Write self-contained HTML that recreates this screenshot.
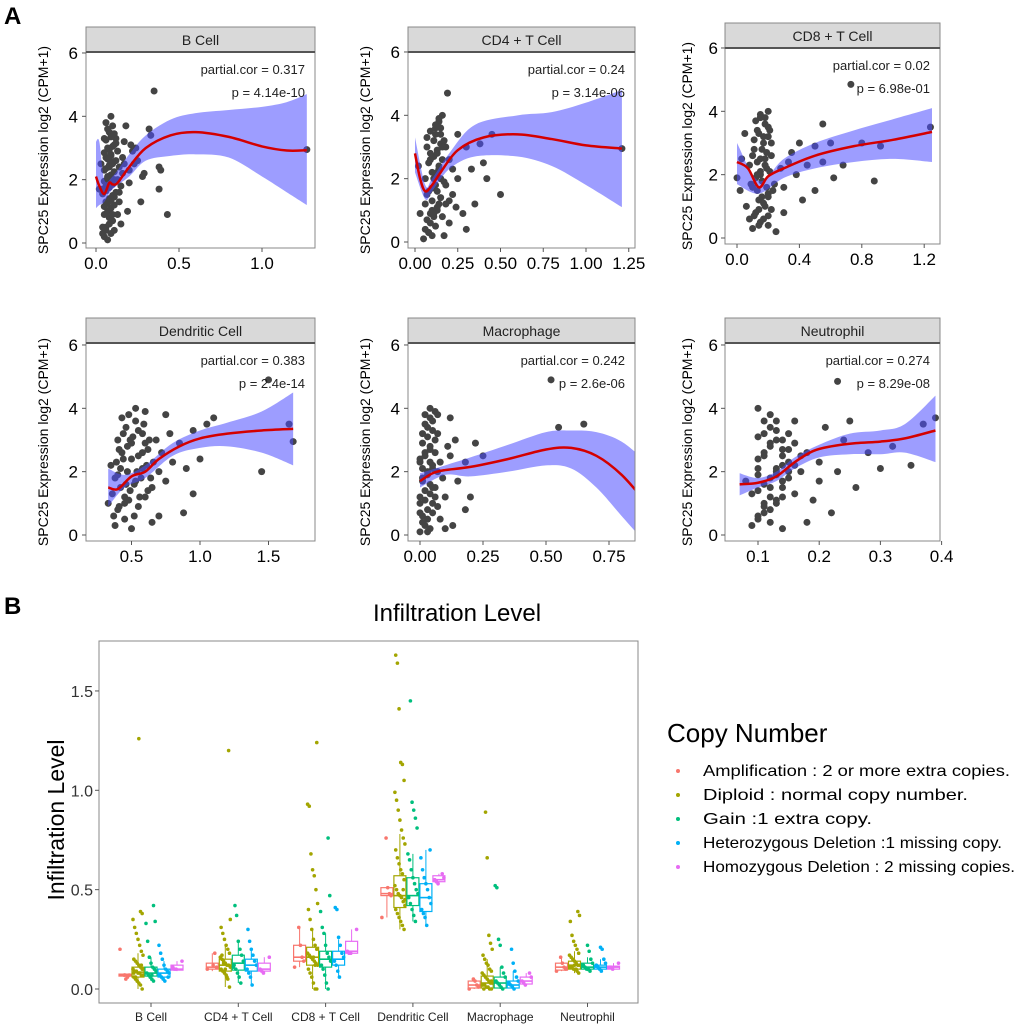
<!DOCTYPE html>
<html><head><meta charset="utf-8"><style>
body{margin:0;background:#fff;}
svg{display:block;font-family:"Liberation Sans",Arial,sans-serif;}
</style></head><body>
<svg id="fig" width="1020" height="1029" viewBox="0 0 1020 1029">
<text x="4" y="24" font-size="24" font-weight="bold">A</text>
<text x="4" y="614" font-size="24" font-weight="bold">B</text>
<g id="topPanels"></g>
<g id="bot"></g>
</svg>
<script>
// ===== Panel A data =====
const panelTitles=["B Cell","CD4 + T Cell","CD8 + T Cell","Dendritic Cell","Macrophage","Neutrophil"];
const panelCor=["0.317","0.24","0.02","0.383","0.242","0.274"];
const panelP=["4.14e-10","3.14e-06","6.98e-01","2.4e-14","2.6e-06","8.29e-08"];
const xTicks=[[0,0.5,1.0],[0,0.25,0.5,0.75,1.0,1.25],[0,0.4,0.8,1.2],[0.5,1.0,1.5],[0,0.25,0.5,0.75],[0.1,0.2,0.3,0.4]];
const xTickLabels=[["0.0","0.5","1.0"],["0.00","0.25","0.50","0.75","1.00","1.25"],["0.0","0.4","0.8","1.2"],["0.5","1.0","1.5"],["0.00","0.25","0.50","0.75"],["0.1","0.2","0.3","0.4"]];
const yTicks=[0,2,4,6];
const ptsX=[
[0.05,0.07,0.09,0.06,0.08,0.1,0.05,0.07,0.09,0.11,0.06,0.08,0.1,0.12,0.04,0.06,0.09,0.11,0.07,0.05,0.08,0.1,0.12,0.06,0.09,0.07,0.11,0.05,0.08,0.1,0.06,0.09,0.13,0.14,0.15,0.16,0.17,0.18,0.13,0.15,0.2,0.22,0.24,0.25,0.27,0.29,0.32,0.33,0.35,0.38,0.38,0.43,0.39,0.28,0.02,0.19,0.11,0.04,1.27,0.12,0.14,0.03],
[0.05,0.08,0.1,0.12,0.07,0.09,0.13,0.06,0.1,0.15,0.08,0.12,0.17,0.06,0.1,0.14,0.09,0.13,0.18,0.11,0.15,0.12,0.14,0.16,0.19,0.2,0.22,0.25,0.24,0.28,0.3,0.33,0.35,0.38,0.4,0.45,0.5,0.42,0.3,0.02,0.03,0.2,0.17,1.21,0.07,0.18,0.25],
[0.1,0.15,0.2,0.12,0.18,0.22,0.14,0.2,0.1,0.16,0.24,0.13,0.19,0.08,0.15,0.22,0.11,0.17,0.2,0.13,0.18,0.15,0.2,0.05,0.03,0.0,0.02,0.06,0.28,0.3,0.33,0.35,0.38,0.4,0.45,0.5,0.55,0.6,0.62,0.5,0.42,0.68,0.73,0.8,0.88,0.92,0.55,1.24,0.3,0.25],
[0.38,0.45,0.5,0.4,0.55,0.48,0.6,0.36,0.42,0.52,0.65,0.4,0.47,0.58,0.7,0.35,0.44,0.55,0.62,0.5,0.4,0.58,0.46,0.53,0.6,0.43,0.68,0.72,0.75,0.78,0.8,0.85,0.9,0.95,1.0,1.05,1.1,0.88,0.7,0.65,1.45,1.5,1.65,1.68,0.33,0.75,0.95],
[0.0,0.02,0.04,0.01,0.03,0.05,0.0,0.02,0.04,0.06,0.01,0.03,0.05,0.0,0.02,0.04,0.06,0.01,0.03,0.05,0.02,0.04,0.08,0.1,0.12,0.14,0.15,0.18,0.2,0.22,0.25,0.08,0.1,0.12,0.18,0.52,0.55,0.65,0.9,0.07,0.13],
[0.09,0.1,0.12,0.11,0.13,0.09,0.12,0.14,0.1,0.13,0.15,0.11,0.14,0.12,0.1,0.13,0.11,0.12,0.1,0.15,0.16,0.17,0.18,0.16,0.19,0.2,0.21,0.22,0.23,0.24,0.26,0.28,0.3,0.32,0.35,0.23,0.37,0.39,0.08,0.18,0.2,0.25,0.14]];
const ptsY=[
[0.2,0.1,0.3,0.5,0.6,0.7,0.9,1.0,1.1,1.2,1.3,1.4,1.5,1.6,1.7,1.8,1.9,2.0,2.1,2.3,2.4,2.5,2.6,2.7,2.8,3.0,3.1,3.3,3.5,3.7,3.8,4.0,0.9,1.3,1.8,2.2,3.2,3.7,2.9,0.6,1.9,2.9,3.0,2.6,1.3,2.2,3.6,3.4,4.8,2.4,1.7,0.9,2.3,2.1,1.7,1.0,0.4,0.5,2.95,3.3,2.4,2.5],
[0.1,0.3,0.2,0.5,0.7,0.9,1.0,1.2,1.3,1.4,1.6,1.8,1.9,2.0,2.2,2.4,2.6,2.8,3.0,3.2,3.4,3.6,3.8,4.0,4.7,2.6,1.5,2.0,1.1,0.9,3.0,2.3,1.2,3.1,2.5,3.4,1.5,2.0,0.4,2.4,0.9,0.6,0.2,2.95,3.0,1.2,3.4],
[0.3,0.5,0.4,0.8,1.0,0.9,1.2,1.4,1.6,1.8,1.7,2.0,2.2,2.3,2.5,2.6,2.8,3.0,3.2,3.4,3.6,3.8,4.0,3.3,2.5,1.9,1.5,1.0,2.2,1.6,2.4,2.7,2.0,3.0,2.3,2.9,2.4,3.0,1.9,1.5,1.2,2.3,4.85,3.0,1.8,2.9,3.6,3.5,0.8,0.2],
[0.3,0.5,0.2,0.8,0.9,1.1,1.2,1.3,1.5,1.6,1.5,1.9,2.0,2.1,2.0,2.2,2.4,2.5,2.7,2.9,3.0,3.2,3.4,3.6,3.9,3.7,3.0,2.6,1.7,3.2,2.3,2.9,2.1,3.3,2.4,3.5,3.7,0.7,0.6,0.4,2.0,4.9,3.5,2.95,1.0,3.8,1.3],
[0.1,0.3,0.2,0.6,0.8,1.0,1.2,1.4,1.6,1.5,1.8,2.0,2.2,2.4,2.6,2.8,3.0,3.2,3.4,3.6,3.8,4.0,2.3,1.2,2.5,3.0,1.7,2.3,1.2,2.9,2.5,0.5,0.2,3.7,0.8,4.9,3.4,3.5,0.7,3.8,0.3],
[0.3,0.6,0.4,0.9,1.1,1.3,1.5,1.7,1.9,2.1,2.3,2.5,2.7,2.9,3.1,3.3,3.6,3.8,4.0,3.2,1.3,2.0,2.6,3.6,1.1,2.3,3.4,0.7,2.0,3.0,1.5,2.6,2.1,2.8,2.2,4.85,3.5,3.7,1.7,0.4,1.7,3.6,0.2]];
// additional points in the dense clusters
const ptsX2=[
[0.04,0.06,0.08,0.1,0.05,0.07,0.09,0.11,0.04,0.06,0.08,0.1,0.05,0.07,0.09,0.11,0.06,0.08,0.1,0.07,0.09,0.05,0.08,0.1,0.12,0.06,0.09,0.11,0.07,0.13,0.14,0.16,0.17,0.2,0.21,0.23],
[0.06,0.09,0.11,0.13,0.07,0.1,0.12,0.14,0.08,0.11,0.13,0.15,0.07,0.09,0.12,0.14,0.16,0.1,0.13,0.15,0.08,0.11,0.14,0.16,0.12,0.15,0.17,0.13,0.18,0.2,0.22,0.09,0.11,0.16],
[0.08,0.11,0.14,0.17,0.2,0.23,0.09,0.12,0.15,0.18,0.21,0.1,0.13,0.16,0.19,0.22,0.11,0.14,0.17,0.2,0.12,0.15,0.18,0.21,0.13,0.16,0.19,0.14,0.17,0.2,0.15,0.18],
[0.37,0.41,0.45,0.49,0.53,0.57,0.61,0.39,0.43,0.47,0.51,0.55,0.59,0.63,0.38,0.42,0.46,0.5,0.54,0.58,0.62,0.66,0.44,0.48,0.52,0.56,0.6,0.64,0.41,0.45,0.49,0.53],
[0.01,0.03,0.05,0.07,0.0,0.02,0.04,0.06,0.01,0.03,0.05,0.07,0.0,0.02,0.04,0.06,0.01,0.03,0.05,0.07,0.02,0.04,0.06,0.0,0.03,0.05,0.01,0.04,0.09,0.11],
[0.1,0.11,0.12,0.13,0.14,0.1,0.11,0.12,0.13,0.14,0.15,0.1,0.11,0.12,0.13,0.14,0.15,0.16,0.11,0.12,0.13,0.14,0.1,0.12,0.13,0.11,0.14,0.15,0.16,0.17]];
const ptsY2=[
[0.3,0.4,0.8,0.9,1.15,1.25,1.35,1.45,1.55,1.65,1.75,1.85,1.95,2.05,2.15,2.25,2.35,2.45,2.55,2.65,2.75,2.85,2.95,3.05,3.15,3.25,3.35,3.45,3.6,2.0,1.6,2.7,2.5,2.3,3.1,2.5],
[0.4,0.6,0.8,1.1,1.5,1.7,2.1,2.3,2.5,2.7,2.9,3.1,3.3,3.5,3.7,3.9,3.0,1.0,1.6,2.0,0.3,2.0,1.2,2.6,3.4,3.6,3.2,2.2,1.8,1.3,2.3,2.8,0.9,0.8],
[0.6,0.7,0.9,1.1,1.3,1.5,1.7,1.9,2.1,2.3,2.1,2.6,2.4,2.8,2.7,3.0,3.1,3.3,3.2,3.5,3.7,3.9,3.8,3.4,1.5,1.3,1.6,0.4,0.6,0.7,2.0,2.5],
[0.6,0.9,1.2,1.4,1.7,1.8,2.2,2.3,2.6,2.8,3.1,3.3,3.5,3.0,1.8,2.1,1.6,2.4,2.0,2.6,1.4,2.3,3.2,3.8,0.6,1.2,2.9,1.8,2.7,1.0,3.0,4.0],
[0.4,0.5,0.7,0.9,1.0,1.1,1.3,1.2,1.7,1.9,2.1,2.0,2.3,2.5,2.7,2.6,2.9,3.1,3.3,3.2,3.5,3.7,3.9,0.7,0.1,1.5,2.1,2.3,1.8,2.8],
[0.5,0.7,0.8,1.0,1.2,1.4,1.6,1.8,2.0,2.2,2.0,2.4,2.6,2.8,3.0,2.5,2.7,2.2,3.2,3.4,3.6,3.0,2.1,1.2,1.9,1.0,1.5,1.8,2.9,2.5]];
const fitX=[[0,0.02,0.05,0.08,0.1,0.13,0.2,0.3,0.45,0.6,0.8,1.0,1.15,1.27],[0,0.03,0.06,0.1,0.15,0.25,0.4,0.6,0.8,1.0,1.21],[0,0.07,0.14,0.2,0.3,0.5,0.75,1.0,1.25],[0.33,0.4,0.5,0.6,0.7,0.85,1.0,1.2,1.45,1.68],[0,0.05,0.1,0.2,0.35,0.5,0.6,0.7,0.8,0.9],[0.07,0.1,0.13,0.16,0.19,0.22,0.26,0.3,0.34,0.39]];
const fitY=[[2.1,1.8,1.55,1.9,1.85,1.9,2.4,3.0,3.4,3.5,3.35,3.05,2.92,2.93],[2.8,2.0,1.6,1.8,2.2,2.9,3.3,3.4,3.25,3.05,2.95],[2.4,2.2,1.6,1.95,2.2,2.6,2.9,3.1,3.35],[1.5,1.45,1.85,2.0,2.4,2.8,3.05,3.2,3.3,3.35],[1.7,1.95,2.05,2.15,2.4,2.7,2.75,2.5,1.9,1.0],[1.6,1.65,1.85,2.3,2.65,2.8,2.9,2.95,3.05,3.3]];
const bandX=[[0,0.02,0.05,0.1,0.2,0.3,0.45,0.6,0.8,1.0,1.15,1.27],[0,0.06,0.1,0.2,0.35,0.6,0.8,1.0,1.21],[0,0.14,0.3,0.5,0.75,1.0,1.25],[0.33,0.45,0.6,0.8,1.0,1.2,1.45,1.68],[0,0.1,0.2,0.35,0.5,0.6,0.7,0.8,0.9],[0.07,0.1,0.13,0.16,0.2,0.25,0.3,0.34,0.39]];
const bandLo=[[1.1,1.2,1.3,1.7,2.1,2.6,2.75,2.8,2.7,2.1,1.6,1.2],[2.2,1.35,1.6,2.3,2.7,2.7,2.4,1.8,1.1],[1.7,1.4,1.9,2.2,2.4,2.5,2.4],[0.9,1.5,1.8,2.5,2.75,2.8,2.6,2.2],[1.5,1.9,1.85,2.0,2.2,2.1,1.5,0.6,-0.3],[1.25,1.5,1.7,2.1,2.45,2.55,2.55,2.6,2.3]];
const bandHi=[[3.2,3.2,2.0,2.1,2.8,3.4,3.9,4.1,4.2,4.3,4.45,4.7],[3.3,1.8,2.0,2.8,3.7,4.0,4.1,4.4,4.8],[3.0,1.8,2.5,3.0,3.4,3.75,4.1],[2.1,1.9,2.2,2.9,3.3,3.55,3.9,4.5],[1.95,2.2,2.45,2.85,3.25,3.3,3.25,2.95,2.3],[1.95,1.8,2.0,2.45,2.85,3.2,3.3,3.5,4.4]];

// ===== Panel B data =====
const categories=["B Cell","CD4 + T Cell","CD8 + T Cell","Dendritic Cell","Macrophage","Neutrophil"];
const groupNames=["Amplification","Diploid","Gain","Heterozygous Deletion","Homozygous Deletion"];
const legendDesc=[" : 2 or more extra copies."," : normal copy number."," :1 extra copy."," :1 missing copy."," : 2 missing copies."];
const groupColors=["#F8766D","#A3A500","#00BF7D","#00B0F6","#E76BF3"];
const bTicks=[0,0.5,1.0,1.5];
const bTickLabels=["0.0","0.5","1.0","1.5"];
const boxStats=[
[[0.065,0.07,0.075,0.06,0.08],[0.06,0.085,0.11,0.0,0.18],[0.065,0.08,0.11,0.04,0.16],[0.06,0.08,0.1,0.04,0.14],[0.095,0.1,0.12,0.09,0.14]],
[[0.1,0.11,0.13,0.09,0.18],[0.09,0.12,0.15,0.01,0.22],[0.095,0.13,0.17,0.03,0.24],[0.09,0.12,0.15,0.02,0.2],[0.09,0.1,0.13,0.08,0.16]],
[[0.14,0.16,0.22,0.11,0.31],[0.12,0.16,0.21,0.0,0.3],[0.11,0.15,0.19,0.0,0.28],[0.12,0.15,0.19,0.06,0.25],[0.18,0.19,0.24,0.18,0.3]],
[[0.47,0.48,0.51,0.36,0.51],[0.41,0.47,0.57,0.3,0.78],[0.42,0.47,0.56,0.34,0.68],[0.39,0.46,0.53,0.32,0.7],[0.54,0.55,0.57,0.53,0.58]],
[[0.005,0.02,0.04,0.0,0.05],[0.005,0.03,0.065,0.0,0.15],[0.005,0.03,0.06,0.0,0.11],[0.005,0.02,0.04,0.0,0.09],[0.025,0.04,0.06,0.02,0.08]],
[[0.095,0.11,0.13,0.09,0.16],[0.1,0.12,0.14,0.08,0.19],[0.1,0.11,0.13,0.09,0.16],[0.1,0.11,0.12,0.09,0.15],[0.1,0.11,0.115,0.1,0.13]]];
const jitterVals=[
[[0.2,0.07,0.06,0.05,0.07],[0.0,0.02,0.03,0.04,0.05,0.06,0.07,0.07,0.08,0.08,0.09,0.09,0.1,0.1,0.11,0.12,0.13,0.14,0.15,0.17,0.19,0.22,0.25,0.28,0.31,0.35,0.38,0.39,1.26,0.04,0.06,0.08,0.1,0.12],[0.04,0.05,0.06,0.07,0.08,0.09,0.1,0.11,0.13,0.16,0.24,0.33,0.34,0.42,0.07],[0.04,0.05,0.06,0.07,0.08,0.09,0.1,0.12,0.15,0.18,0.22,0.06],[0.1,0.1,0.11,0.14]],
[[0.1,0.11,0.18,0.12],[0.01,0.05,0.07,0.08,0.09,0.1,0.11,0.12,0.12,0.13,0.14,0.15,0.16,0.18,0.2,0.22,0.25,0.28,0.31,0.35,1.2,0.06,0.1,0.13,0.17],[0.03,0.06,0.08,0.1,0.12,0.14,0.17,0.2,0.24,0.37,0.42,0.11],[0.02,0.06,0.08,0.1,0.12,0.14,0.17,0.2,0.24,0.3],[0.08,0.09,0.1,0.16]],
[[0.11,0.14,0.16,0.22,0.31],[0.0,0.0,0.03,0.06,0.08,0.1,0.12,0.13,0.14,0.15,0.16,0.17,0.18,0.2,0.22,0.25,0.3,0.35,0.4,0.43,0.5,0.57,0.6,0.68,0.92,0.93,1.24,0.12,0.16],[0.0,0.03,0.07,0.1,0.12,0.14,0.16,0.18,0.22,0.28,0.31,0.39,0.47,0.76],[0.06,0.09,0.12,0.14,0.16,0.18,0.22,0.26,0.4,0.41],[0.18,0.18,0.19,0.3]],
[[0.36,0.47,0.48,0.51,0.76],[0.3,0.32,0.34,0.36,0.38,0.4,0.42,0.44,0.46,0.47,0.48,0.5,0.52,0.55,0.58,0.6,0.63,0.66,0.7,0.73,0.76,0.8,0.85,0.9,0.95,0.99,1.05,1.13,1.14,1.41,1.64,1.68,0.45,0.5],[0.34,0.37,0.4,0.43,0.46,0.48,0.5,0.53,0.56,0.6,0.65,0.68,0.81,0.86,0.9,0.94,1.45],[0.32,0.36,0.38,0.4,0.43,0.46,0.5,0.53,0.56,0.6,0.66,0.7],[0.53,0.54,0.55,0.56,0.58]],
[[0.0,0.01,0.02,0.04,0.05],[0.0,0.0,0.01,0.01,0.02,0.02,0.03,0.03,0.04,0.05,0.06,0.07,0.08,0.09,0.1,0.12,0.13,0.15,0.17,0.2,0.23,0.27,0.66,0.89,0.0,0.02,0.04],[0.0,0.01,0.02,0.03,0.04,0.06,0.08,0.11,0.22,0.25,0.51,0.52],[0.0,0.01,0.02,0.03,0.04,0.06,0.09,0.13,0.2],[0.02,0.03,0.04,0.06,0.08]],
[[0.09,0.1,0.11,0.13,0.16],[0.08,0.09,0.1,0.1,0.11,0.11,0.12,0.12,0.13,0.14,0.15,0.16,0.17,0.18,0.2,0.22,0.24,0.27,0.34,0.37,0.39,0.1,0.12],[0.09,0.1,0.1,0.11,0.12,0.13,0.15,0.19,0.22],[0.09,0.1,0.11,0.12,0.13,0.15,0.2,0.21],[0.1,0.11,0.11,0.13]]];

const NS="http://www.w3.org/2000/svg";
function mk(tag,attrs,parent,txt){const e=document.createElementNS(NS,tag);for(const k in attrs)e.setAttribute(k,attrs[k]);if(txt!==undefined)e.textContent=txt;parent.appendChild(e);return e;}
// Catmull-Rom smoothing: returns path segments (without leading M) through pts
function smooth(pts,start){
  let d=start?('M'+pts[0][0]+','+pts[0][1]):('L'+pts[0][0]+','+pts[0][1]);
  for(let i=0;i<pts.length-1;i++){
    const p0=pts[Math.max(0,i-1)],p1=pts[i],p2=pts[i+1],p3=pts[Math.min(pts.length-1,i+2)];
    const c1=[p1[0]+(p2[0]-p0[0])/6,p1[1]+(p2[1]-p0[1])/6];
    const c2=[p2[0]-(p3[0]-p1[0])/6,p2[1]-(p3[1]-p1[1])/6];
    d+='C'+c1[0]+','+c1[1]+' '+c2[0]+','+c2[1]+' '+p2[0]+','+p2[1];
  }
  return d;
}

const layout=[
{sx:86,sw:229,sy:27,pb:248,x0:96,xs:166,xo:0,y0:243,ys:31.67,ylx:78,yt:48},
{sx:408,sw:227,sy:27,pb:248,x0:415,xs:171,xo:0,y0:242,ys:31.67,ylx:400,yt:370},
{sx:725,sw:215,sy:23,pb:244,x0:737,xs:156,xo:0,y0:238,ys:31.67,ylx:718,yt:692},
{sx:86,sw:229,sy:318,pb:541,x0:200,xs:137,xo:1.0,y0:535,ys:31.67,ylx:78,yt:48},
{sx:408,sw:227,sy:318,pb:541,x0:420,xs:252,xo:0,y0:535,ys:31.67,ylx:400,yt:370},
{sx:725,sw:215,sy:318,pb:541,x0:758,xs:612,xo:0.1,y0:535,ys:31.67,ylx:718,yt:692}];
const topG=document.getElementById('topPanels');
layout.forEach((L,p)=>{
  const g=mk('g',{},topG);
  
  
  const sh=25, py=L.sy+sh;
  const X=v=>L.x0+(v-L.xo)*L.xs, Y=v=>L.y0-v*L.ys;
  const cid='clip'+p;
  const cp=mk('clipPath',{id:cid},g);mk('rect',{x:L.sx,y:py,width:L.sw,height:L.pb-py},cp);
  mk('rect',{x:L.sx,y:py,width:L.sw,height:L.pb-py,fill:'#fff'},g);
  const pg=mk('g',{'clip-path':'url(#'+cid+')'},g);
  const allX=ptsX[p].concat(ptsX2[p]), allY=ptsY[p].concat(ptsY2[p]);
  allX.forEach((xv,i)=>{const c=mk('circle',{cx:X(xv),cy:Y(allY[i]),r:3.5,fill:'#444'},pg);
    
    });
  const hi=bandX[p].map((xv,i)=>[X(xv),Y(bandHi[p][i])]);
  const lo=bandX[p].map((xv,i)=>[X(xv),Y(bandLo[p][i])]).reverse();
  const band=mk('path',{d:smooth(hi,true)+smooth(lo,false)+'Z',fill:'#4d4dff',opacity:0.55},pg);
  
  
  const fp=fitX[p].map((xv,i)=>[X(xv),Y(fitY[p][i])]);
  const line=mk('path',{d:smooth(fp,true),fill:'none',stroke:'#d40000','stroke-width':2.5,'stroke-linejoin':'round'},pg);
  
  
  mk('rect',{x:L.sx,y:py,width:L.sw,height:L.pb-py,fill:'none',stroke:'#888','stroke-width':1},g);
  const st=mk('rect',{x:L.sx,y:L.sy,width:L.sw,height:sh,fill:'#d9d9d9',stroke:'#888'},g);
  
  
  mk('line',{x1:L.sx,x2:L.sx+L.sw,y1:py,y2:py,stroke:'#555','stroke-width':2},g);
  const tt=mk('text',{x:L.sx+L.sw/2,y:L.sy+18,'font-size':14,'text-anchor':'middle',fill:'#222'},g,panelTitles[p]);
  
  
  const a1=mk('text',{x:L.sx+L.sw-10,y:py+22,'font-size':13,'text-anchor':'end',fill:'#222'},g,'partial.cor = '+panelCor[p]);
  
  
  const a2=mk('text',{x:L.sx+L.sw-10,y:py+45,'font-size':13,'text-anchor':'end',fill:'#222'},g,'p = '+panelP[p]);
  
  
  yTicks.forEach(t=>{mk('line',{x1:L.sx-4,x2:L.sx,y1:Y(t),y2:Y(t),stroke:'#555'},g);
    const tl=mk('text',{x:L.ylx,y:Y(t)+6,'font-size':17,'text-anchor':'end'},g,String(t));
    
    });
  xTicks[p].forEach((t,i)=>{mk('line',{x1:X(t),x2:X(t),y1:L.pb,y2:L.pb+4,stroke:'#555'},g);
    const tl=mk('text',{x:X(t),y:L.pb+21,'font-size':17,'text-anchor':'middle'},g,xTickLabels[p][i]);
    
    });
  const yc=(py+L.pb)/2;
  const yl=mk('text',{x:L.yt,y:yc,'font-size':14,'text-anchor':'middle',transform:'rotate(-90 '+L.yt+' '+yc+')'},g,'SPC25 Expression log2 (CPM+1)');
  
  
});

// ===== Panel B =====
const botG=document.getElementById('bot');
const FX=99,FY=641,FW=539,FH=362;
const BY=v=>989-v*198.7;
const BX=(c,g)=>151+c*87.3+(g-2)*13;
mk('rect',{x:FX,y:FY,width:FW,height:FH,fill:'#fff',stroke:'#888'},botG);
const bt=mk('text',{x:457,y:621,'font-size':24,'text-anchor':'middle'},botG,'Infiltration Level');


const byl=mk('text',{x:64,y:820,'font-size':23,'text-anchor':'middle',transform:'rotate(-90 64 820)'},botG,'Infiltration Level');


bTicks.forEach((t,i)=>{mk('line',{x1:FX-4,x2:FX,y1:BY(t),y2:BY(t),stroke:'#555'},botG);
  const tl=mk('text',{x:FX-6,y:BY(t)+6,'font-size':16,'text-anchor':'end',fill:'#333'},botG,bTickLabels[i]);
  
  });
categories.forEach((c,ci)=>{
  const cx=151+ci*87.3;
  mk('line',{x1:cx,x2:cx,y1:FY+FH,y2:FY+FH+4,stroke:'#555'},botG);
  const tl=mk('text',{x:cx,y:1021,'font-size':12,'text-anchor':'middle',fill:'#222'},botG,c);
  
  
  groupNames.forEach((gname,gi)=>{
    const s=boxStats[ci][gi], x=BX(ci,gi), col=groupColors[gi], w=12;
    const bg=mk('g',{},botG);
    
    
    mk('line',{x1:x,x2:x,y1:BY(s[4]),y2:BY(s[2]),stroke:col},bg);
    mk('line',{x1:x,x2:x,y1:BY(s[0]),y2:BY(s[3]),stroke:col},bg);
    mk('rect',{x:x-w/2,y:BY(s[2]),width:w,height:Math.max(1,BY(s[0])-BY(s[2])),fill:'none',stroke:col,'stroke-width':1.2},bg);
    mk('line',{x1:x-w/2,x2:x+w/2,y1:BY(s[1]),y2:BY(s[1]),stroke:col,'stroke-width':1.6},bg);
    jitterVals[ci][gi].forEach((v,i)=>{
      const off=(((i*37+gi*11)%13)-6)/6*5;
      const pt=mk('circle',{cx:x+off,cy:BY(v),r:1.8,fill:col},bg);
      
      
    });
  });
});
const lg=mk('g',{},botG);


mk('text',{x:667,y:742,'font-size':26},lg,'Copy Number');
const legendEnds=[1010,968,872,1002,1015];
groupNames.forEach((n,i)=>{
  const y=771+i*24;
  const e=mk('g',{},lg);
  
  
  mk('circle',{cx:678,cy:y,r:2,fill:groupColors[i]},e);
  mk('text',{x:703,y:y+5,'font-size':16,textLength:legendEnds[i]-703,lengthAdjust:'spacingAndGlyphs'},e,n+legendDesc[i]);
});
</script>
</body></html>
